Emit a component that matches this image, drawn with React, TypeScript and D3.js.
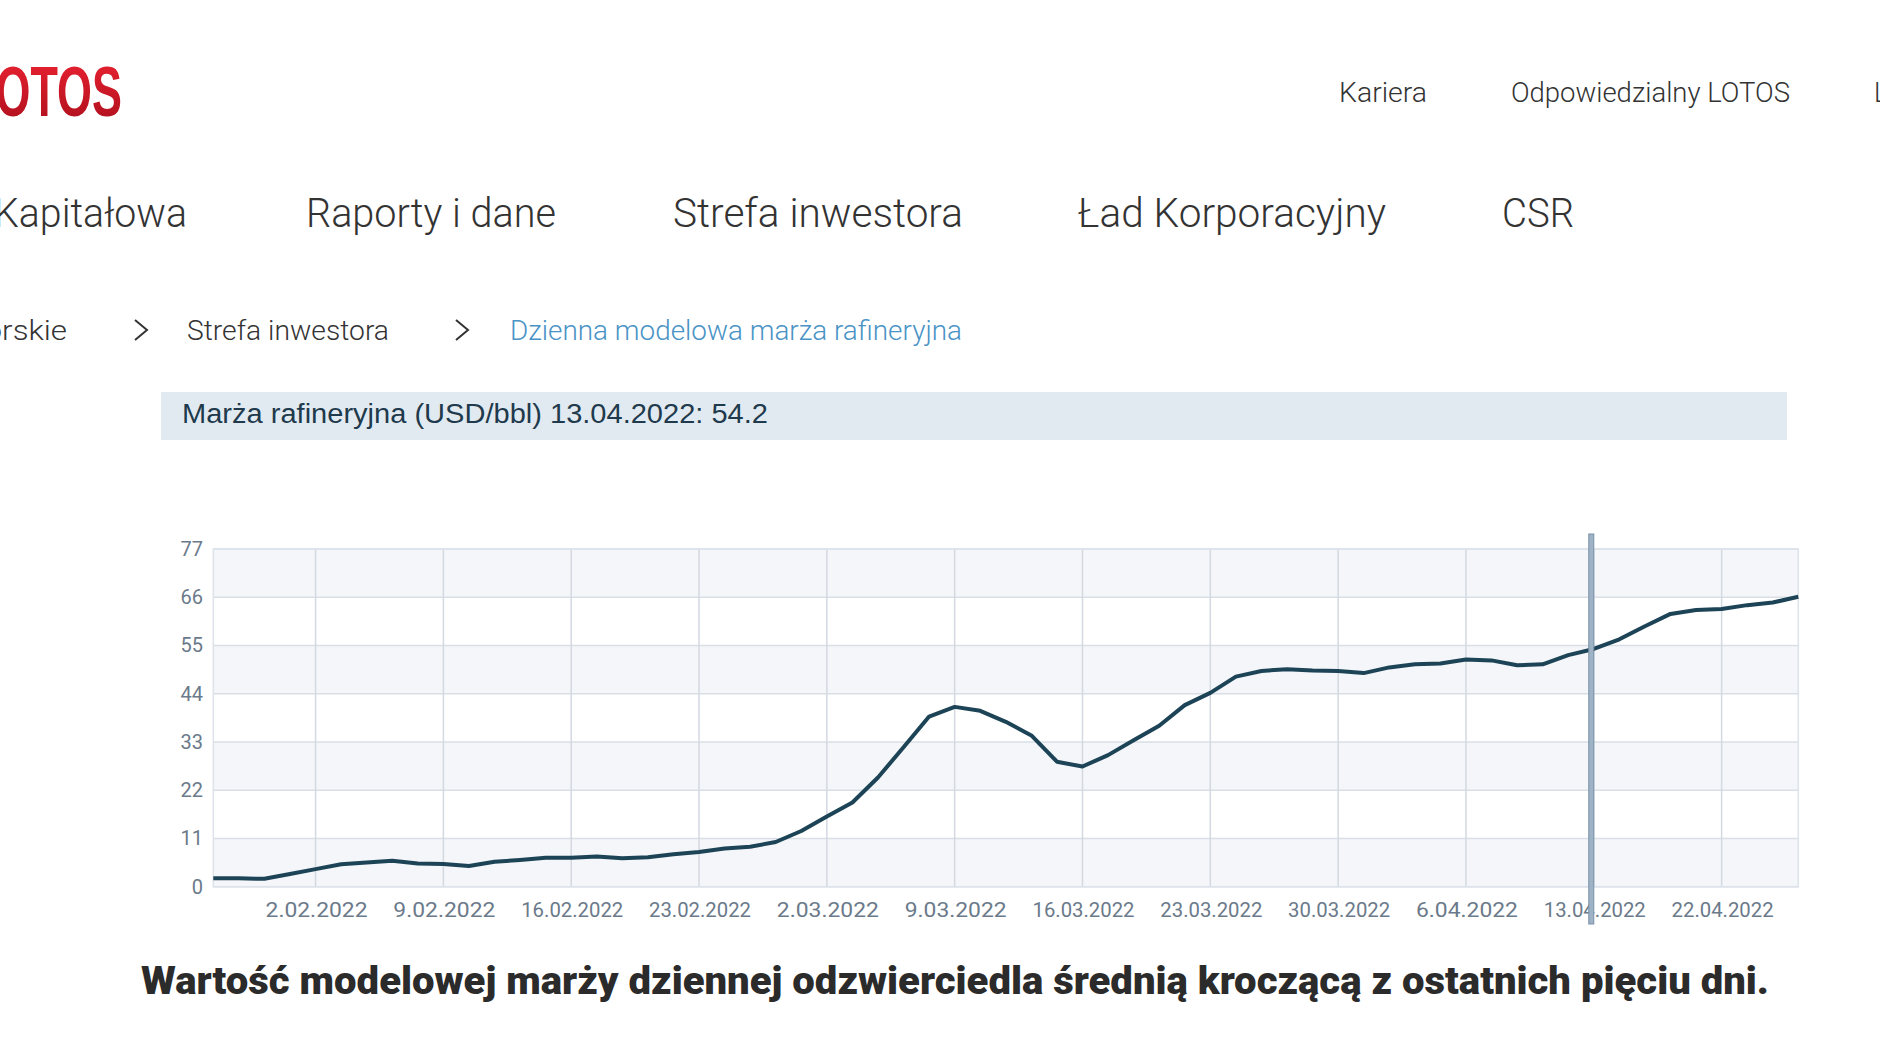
import { useEffect, useRef } from 'react'
import * as d3 from 'd3'

// trading days 27.01.2022 - 27.04.2022
const dates = [
  '27.01', '28.01', '31.01', '1.02', '2.02', '3.02', '4.02', '7.02', '8.02', '9.02',
  '10.02', '11.02', '14.02', '15.02', '16.02', '17.02', '18.02', '21.02', '22.02', '23.02',
  '24.02', '25.02', '28.02', '1.03', '2.03', '3.03', '4.03', '7.03', '8.03', '9.03',
  '10.03', '11.03', '14.03', '15.03', '16.03', '17.03', '18.03', '21.03', '22.03', '23.03',
  '24.03', '25.03', '28.03', '29.03', '30.03', '31.03', '1.04', '4.04', '5.04', '6.04',
  '7.04', '8.04', '11.04', '12.04', '13.04', '14.04', '19.04', '20.04', '21.04', '22.04',
  '25.04', '26.04', '27.04'
]

const margin = [
  1.9, 1.9, 1.8, 2.9, 4.0, 5.1, 5.5, 5.9, 5.3, 5.2,
  4.7, 5.7, 6.1, 6.6, 6.6, 6.9, 6.5, 6.7, 7.4, 7.9,
  8.7, 9.1, 10.2, 12.7, 16.0, 19.2, 24.9, 31.8, 38.8, 41.0,
  40.1, 37.6, 34.5, 28.5, 27.4, 30.0, 33.4, 36.7, 41.4, 44.2,
  47.9, 49.2, 49.6, 49.3, 49.2, 48.7, 50.0, 50.7, 50.9, 51.8,
  51.6, 50.5, 50.7, 52.8, 54.2, 56.4, 59.4, 62.2, 63.1, 63.3,
  64.2, 64.8, 66.1
]

const xTicks = ['2.02', '9.02', '16.02', '23.02', '2.03', '9.03', '16.03', '23.03', '30.03', '6.04', '13.04', '22.04']
const yTicks = [0, 11, 22, 33, 44, 55, 66, 77]
const selected = '13.04'

const topLinks = ['Kariera', 'Odpowiedzialny LOTOS', 'L']
const mainLinks = ['Kapitałowa', 'Raporty i dane', 'Strefa inwestora', 'Ład Korporacyjny', 'CSR']
const crumbs = ['inwestorskie', 'Strefa inwestora', 'Dzienna modelowa marża rafineryjna']

const font = 'Roboto, "Open Sans", sans-serif'

export default function App() {
  const ref = useRef(null)

  useEffect(() => {
    document.body.style.margin = '0'
    const width = 1880
    const height = 1060
    const svg = d3.select(ref.current)
      .attr('width', width)
      .attr('height', height)
      .attr('viewBox', [0, 0, width, height])
      .style('display', 'block')
      .style('background', '#fff')
    svg.selectAll('*').remove()

    // logo
    const grad = svg.append('defs').append('linearGradient')
      .attr('id', 'logoGrad').attr('x1', 0).attr('y1', 0).attr('x2', 0).attr('y2', 1)
    grad.append('stop').attr('offset', '0%').attr('stop-color', '#ee2333')
    grad.append('stop').attr('offset', '100%').attr('stop-color', '#a90e1b')
    svg.append('text')
      .attr('x', -32).attr('y', 116)
      .attr('font-family', '"Liberation Sans", Arial, sans-serif')
      .attr('font-weight', 700)
      .attr('font-size', 71)
      .attr('textLength', 154)
      .attr('lengthAdjust', 'spacingAndGlyphs')
      .attr('fill', 'url(#logoGrad)')
      .text('LOTOS')

    // top links
    const topPos = [[1339, 88], [1511, 279], [1874, 14]]
    svg.append('g').selectAll('text').data(topLinks).join('text')
      .attr('x', (d, i) => topPos[i][0]).attr('y', 102)
      .attr('font-family', font).attr('font-size', 27).attr('font-weight', 300)
      .attr('fill', '#333')
      .attr('textLength', (d, i) => topPos[i][1])
      .attr('lengthAdjust', 'spacingAndGlyphs')
      .text(d => d)

    // main menu
    const mainPos = [[-6, 193], [306, 250], [673, 290], [1078, 308], [1502, 72]]
    svg.append('g').selectAll('text').data(mainLinks).join('text')
      .attr('x', (d, i) => mainPos[i][0]).attr('y', 227)
      .attr('font-family', font).attr('font-size', 40).attr('font-weight', 300)
      .attr('fill', '#333')
      .attr('textLength', (d, i) => mainPos[i][1])
      .attr('lengthAdjust', 'spacingAndGlyphs')
      .text(d => d)

    // breadcrumbs
    const crumbPos = [[-105, 172], [187, 202], [510, 452]]
    svg.append('g').selectAll('text').data(crumbs).join('text')
      .attr('x', (d, i) => crumbPos[i][0]).attr('y', 340)
      .attr('font-family', font).attr('font-size', 28).attr('font-weight', 300)
      .attr('fill', (d, i) => i === 2 ? '#4a93c6' : '#333')
      .attr('textLength', (d, i) => crumbPos[i][1])
      .attr('lengthAdjust', 'spacingAndGlyphs')
      .text(d => d)
    svg.append('g').selectAll('path').data([135, 456]).join('path')
      .attr('d', d => `M${d},320 L${d + 12},330 L${d},340`)
      .attr('fill', 'none').attr('stroke', '#333').attr('stroke-width', 2)

    // title box
    svg.append('rect').attr('x', 161).attr('y', 392).attr('width', 1626).attr('height', 48).attr('fill', '#e2eaf1')
    svg.append('text')
      .attr('x', 182).attr('y', 423)
      .attr('font-family', '"Liberation Sans", Arial, sans-serif')
      .attr('font-size', 27)
      .attr('fill', '#1e3a4c')
      .attr('textLength', 586)
      .attr('lengthAdjust', 'spacingAndGlyphs')
      .text(`Marża rafineryjna (USD/bbl) ${selected}.2022: ${margin[dates.indexOf(selected)]}`)

    // chart
    const x = d3.scalePoint().domain(dates).range([213.3, 1798.3])
    const y = d3.scaleLinear().domain([0, 77]).range([886.7, 549])

    const plot = svg.append('g')
    // alternating bands
    plot.append('g').selectAll('rect').data(d3.range(0, 77, 11)).join('rect')
      .attr('x', x.range()[0]).attr('width', x.range()[1] - x.range()[0])
      .attr('y', d => y(d + 11)).attr('height', d => y(d) - y(d + 11))
      .attr('fill', (d, i) => i % 2 === 0 ? '#f4f6f9' : '#ffffff')

    plot.append('g').selectAll('line').data(yTicks).join('line')
      .attr('x1', x.range()[0]).attr('x2', x.range()[1])
      .attr('y1', d => y(d)).attr('y2', d => y(d))
      .attr('stroke', '#d9dfe6').attr('stroke-width', 1.5)
    plot.append('g').selectAll('line').data(xTicks).join('line')
      .attr('x1', d => x(d)).attr('x2', d => x(d))
      .attr('y1', y(77)).attr('y2', y(0))
      .attr('stroke', '#d3d9e1').attr('stroke-width', 1.5)
    plot.append('rect')
      .attr('x', x.range()[0]).attr('y', y(77))
      .attr('width', x.range()[1] - x.range()[0]).attr('height', y(0) - y(77))
      .attr('fill', 'none').attr('stroke', '#dde3ea').attr('stroke-width', 1.5)

    // y labels
    plot.append('g').selectAll('text').data(yTicks).join('text')
      .attr('x', 203).attr('y', d => y(d)).attr('dy', '0.35em')
      .attr('text-anchor', 'end')
      .attr('font-family', font).attr('font-size', 20)
      .attr('fill', '#6b7a8a')
      .text(d => d)

    // x labels
    plot.append('g').selectAll('text').data(xTicks).join('text')
      .attr('x', d => x(d) + 1).attr('y', 917)
      .attr('text-anchor', 'middle')
      .attr('font-family', font).attr('font-size', 20)
      .attr('fill', '#6b7a8a')
      .attr('textLength', 102)
      .attr('lengthAdjust', 'spacingAndGlyphs')
      .text(d => `${d}.2022`)

    // line
    const line = d3.line().x((d, i) => x(dates[i])).y(d => y(d))
    plot.append('path')
      .attr('d', line(margin))
      .attr('fill', 'none')
      .attr('stroke', '#1d4456')
      .attr('stroke-width', 4)
      .attr('stroke-linejoin', 'round')

    // cursor
    plot.append('rect')
      .attr('x', x(selected) - 5).attr('y', 534)
      .attr('width', 5).attr('height', 390)
      .attr('fill', '#9fb3c6').attr('stroke', '#7890a8').attr('stroke-width', 1)

    // caption
    svg.append('text')
      .attr('x', 141).attr('y', 994)
      .attr('font-family', font).attr('font-size', 39).attr('font-weight', 900)
      .attr('fill', '#2b2b2b')
      .attr('textLength', 1628)
      .attr('lengthAdjust', 'spacingAndGlyphs')
      .text('Wartość modelowej marży dziennej odzwierciedla średnią kroczącą z ostatnich pięciu dni.')
  }, [])

  return <svg ref={ref} />
}
